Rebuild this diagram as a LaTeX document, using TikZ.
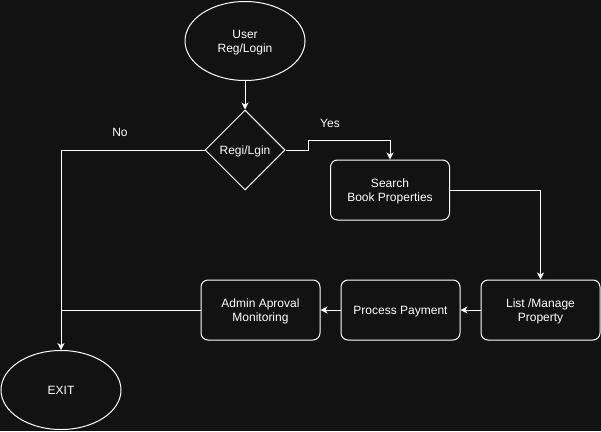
\documentclass[tikz,border=0pt]{standalone}
\usepackage{fontspec}
\setmainfont{Liberation Sans}
\usetikzlibrary{shapes.geometric,arrows.meta}
\definecolor{bgdark}{HTML}{121212}
\tikzset{
  flowtext/.style={text=white, align=center, font=\fontsize{12}{14}\selectfont, text depth=0pt},
  termbox/.style={flowtext, ellipse, draw=white, line width=1pt, minimum width=120, minimum height=79, inner sep=0},
  decbox/.style={flowtext, diamond, draw=white, line width=1pt, minimum width=80, minimum height=80, inner sep=0},
  stepbox/.style={flowtext, rectangle, rounded corners=7, draw=white, line width=1pt, minimum width=119, minimum height=60, inner sep=0},
  arr/.style={draw=white, line width=1pt, -{Stealth[length=7pt,width=7pt,inset=2pt]}},
  line/.style={draw=white, line width=1pt}
}
\begin{document}
\begin{tikzpicture}[x=1pt,y=-1pt]
\fill[bgdark] (0,0) rectangle (601,431);
\useasboundingbox (0,0) rectangle (601,431);

\node[termbox] (user) at (245,41) {User\\Reg/Login};
\node[decbox] (login) at (245,150) {Regi/Lgin};
\node[stepbox] (search) at (390,190) {Search\\Book Properties};
\node[stepbox] (manage) at (540.5,310) {List /Manage\\Property};
\node[stepbox] (payment) at (400.5,310) {Process Payment};
\node[stepbox] (admin) at (260.5,310) {Admin Aproval\\Monitoring};
\node[termbox] (exit) at (61,390) {EXIT};

\node[flowtext] (yes) at (330,123) {Yes};
\node[flowtext] (no) at (120,132) {No};

\coordinate (join) at (61,310);

\draw[arr] (user) -- (login);
% yes branch
\draw[arr] (login.east) -- (308,150) -- (308,140) -- (390,140) -- (search.north);
\draw[arr] (search.east) -| (manage.north);
\draw[arr] (manage) -- (payment);
\draw[arr] (payment) -- (admin);
% no branch
\draw[arr] (login.west) -| (exit.north);
\draw[line] (admin.west) -- (join);

\end{tikzpicture}
\end{document}
